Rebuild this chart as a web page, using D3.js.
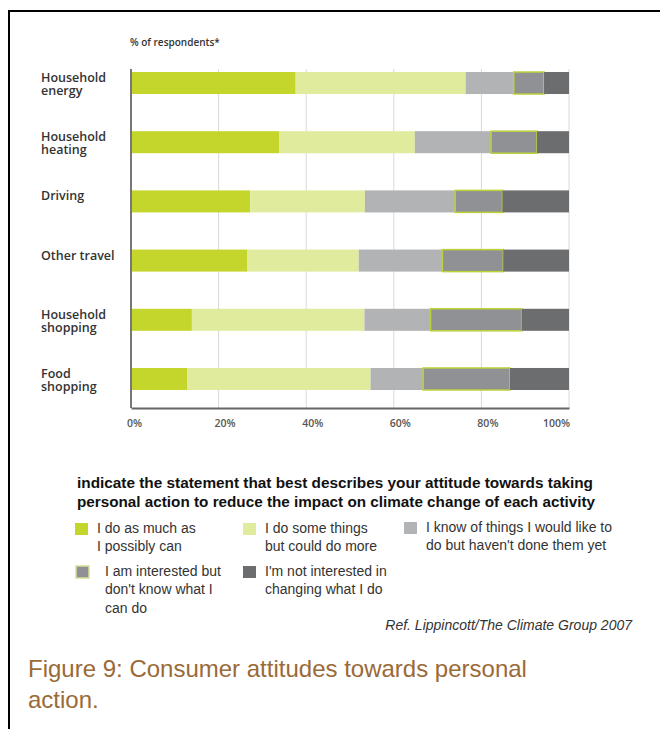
<!DOCTYPE html>
<html>
<head>
<meta charset="utf-8">
<script src="https://cdn.jsdelivr.net/npm/d3@7"></script>
<style>
  body { margin: 0; background: #fff; }
  svg { display: block; }
</style>
</head>
<body>
<div id="chart"></div>
<script>
// chart data
var categories = ["Household\nenergy", "Household\nheating", "Driving", "Other travel", "Household\nshopping", "Food\nshopping"];
var doMost        = [37.6, 33.9, 27.2, 26.6, 13.9, 12.9];
var doSome        = [38.8, 30.9, 26.2, 25.4, 39.4, 41.8];
var knowNotDone   = [11.0, 17.4, 20.6, 19.1, 15.1, 12.0];
var interested    = [6.9, 10.5, 10.8, 13.9, 20.8, 19.8];
var notInterested = [5.7, 7.3, 15.2, 15.0, 10.8, 13.5];
var seriesKeys = ["doMost", "doSome", "knowNotDone", "interested", "notInterested"];
var legendLabels = [
  ["I do as much as", "I possibly can"],
  ["I do some things", "but could do more"],
  ["I know of things I would like to", "do but haven't done them yet"],
  ["I am interested but", "don't know what I", "can do"],
  ["I'm not interested in", "changing what I do"]
];
var tickValues = [0, 20, 40, 60, 80, 100];

var colors = ["#c4d62c", "#e1eb9d", "#b1b3b5", "#8f9194", "#6b6d6f"];

var width = 660, height = 729;

var svg = d3.select("#chart").append("svg")
    .attr("width", width)
    .attr("height", height);

// figure frame (top and left rule)
svg.append("line").attr("x1", 8).attr("x2", 660).attr("y1", 11).attr("y2", 11)
    .attr("stroke", "#000").attr("stroke-width", 2);
svg.append("line").attr("x1", 9).attr("x2", 9).attr("y1", 10).attr("y2", 729)
    .attr("stroke", "#000").attr("stroke-width", 2);

// build rows for the stack
var rows = categories.map(function(c, i) {
  return { cat: c, doMost: doMost[i], doSome: doSome[i], knowNotDone: knowNotDone[i],
           interested: interested[i], notInterested: notInterested[i] };
});
var stacked = d3.stack().keys(seriesKeys)(rows);

var x = d3.scaleLinear().domain([0, 100]).range([131, 569]);
var y = d3.scaleBand().domain(categories).range([72, 390]).paddingInner(0.628).paddingOuter(0);

var plotTop = 69, plotBottom = 408;

// gridlines
svg.append("g").selectAll("line")
    .data(tickValues.slice(1))
    .enter().append("line")
    .attr("x1", function(d) { return x(d); })
    .attr("x2", function(d) { return x(d); })
    .attr("y1", plotTop).attr("y2", plotBottom)
    .attr("stroke", "#d9d9d9").attr("stroke-width", 1);

svg.append("text")
    .attr("x", 130).attr("y", 46)
    .style("font-family", "'Open Sans', sans-serif")
    .style("font-size", "10px").style("font-weight", 600)
    .attr("fill", "#333")
    .text("% of respondents*");

// bars
svg.append("g").selectAll("g")
    .data(stacked)
    .enter().append("g")
    .attr("fill", function(d, i) { return colors[i]; })
    .selectAll("rect")
    .data(function(d) { return d.map(function(p) { p.key = d.key; return p; }); })
    .enter().append("rect")
    .attr("x", function(d) { return x(d[0]); })
    .attr("y", function(d) { return y(d.data.cat); })
    .attr("width", function(d) { return x(d[1]) - x(d[0]); })
    .attr("height", y.bandwidth())
    .attr("stroke", function(d) { return d.key === "interested" ? "#bdd13a" : "none"; })
    .attr("stroke-width", 1.5);

// category labels
var labels = svg.append("g").selectAll("text")
    .data(categories)
    .enter().append("text")
    .attr("x", 41)
    .attr("y", function(d) { return y(d) + 10; })
    .style("font-family", "'Open Sans', sans-serif")
    .style("font-size", "12.5px").style("font-weight", 600)
    .attr("fill", "#333");
labels.selectAll("tspan")
    .data(function(d) { return d.split("\n"); })
    .enter().append("tspan")
    .attr("x", 41)
    .attr("dy", function(d, i) { return i ? 13 : 0; })
    .text(function(d) { return d; });

// axes
svg.append("line").attr("x1", 131).attr("x2", 131).attr("y1", plotTop).attr("y2", plotBottom)
    .attr("stroke", "#777").attr("stroke-width", 2);

var xAxis = svg.append("g")
    .attr("transform", "translate(0," + plotBottom + ")")
    .call(d3.axisBottom(x).tickValues(tickValues).tickSize(0).tickPadding(12)
      .tickFormat(function(d) { return d + "%"; }));
xAxis.select(".domain").attr("stroke", "#666").attr("stroke-width", 2);
xAxis.selectAll("text")
    .style("font-family", "'Open Sans', sans-serif")
    .style("font-size", "10.5px").style("font-weight", 600)
    .attr("fill", "#555")
    .attr("dx", function(d) { return d === 0 ? 3 : (d === 100 ? -13 : 6); });

// legend
var legendTitle = ["indicate the statement that best describes your attitude towards taking",
                   "personal action to reduce the impact on climate change of each activity"];
svg.append("g").selectAll("text")
    .data(legendTitle)
    .enter().append("text")
    .attr("x", 77)
    .attr("y", function(d, i) { return 488 + i * 19; })
    .attr("textLength", function(d, i) { return i ? 518 : 516; })
    .attr("lengthAdjust", "spacingAndGlyphs")
    .style("font-family", "'Liberation Sans', Arial, sans-serif")
    .style("font-size", "15px").style("font-weight", "bold")
    .attr("fill", "#111")
    .text(function(d) { return d; });

var legendPos = [[75, 523], [243, 523], [404, 522], [76, 566], [243, 566]];
var legendItem = svg.append("g").selectAll("g")
    .data(legendLabels)
    .enter().append("g")
    .attr("transform", function(d, i) { return "translate(" + legendPos[i][0] + "," + legendPos[i][1] + ")"; });

legendItem.append("rect")
    .attr("width", 13).attr("height", 12)
    .attr("fill", function(d, i) { return colors[i]; })
    .attr("stroke", function(d, i) { return i === 3 ? "#d6e19a" : "none"; })
    .attr("stroke-width", 1.5);

legendItem.append("text")
    .attr("y", 10)
    .style("font-family", "'Liberation Sans', Arial, sans-serif")
    .style("font-size", "14px")
    .attr("fill", "#333")
    .selectAll("tspan")
    .data(function(d) { return d; })
    .enter().append("tspan")
    .attr("x", function() { return this.parentNode.parentNode.__data__.length === 3 ? 29 : 22; })
    .attr("dy", function(d, i) { return i ? 18.3 : 0; })
    .text(function(d) { return d; });

svg.append("text")
    .attr("x", 632).attr("y", 630)
    .attr("text-anchor", "end")
    .style("font-family", "'Liberation Sans', Arial, sans-serif")
    .style("font-size", "14px").style("font-style", "italic")
    .attr("fill", "#333")
    .text("Ref. Lippincott/The Climate Group 2007");

// caption
svg.append("g").selectAll("text")
    .data(["Figure 9: Consumer attitudes towards personal", "action."])
    .enter().append("text")
    .attr("x", 28)
    .attr("y", function(d, i) { return 677 + i * 31; })
    .style("font-family", "'Liberation Sans', Arial, sans-serif")
    .style("font-size", "24px")
    .attr("fill", "#9a6a37")
    .text(function(d) { return d; });
</script>
</body>
</html>
